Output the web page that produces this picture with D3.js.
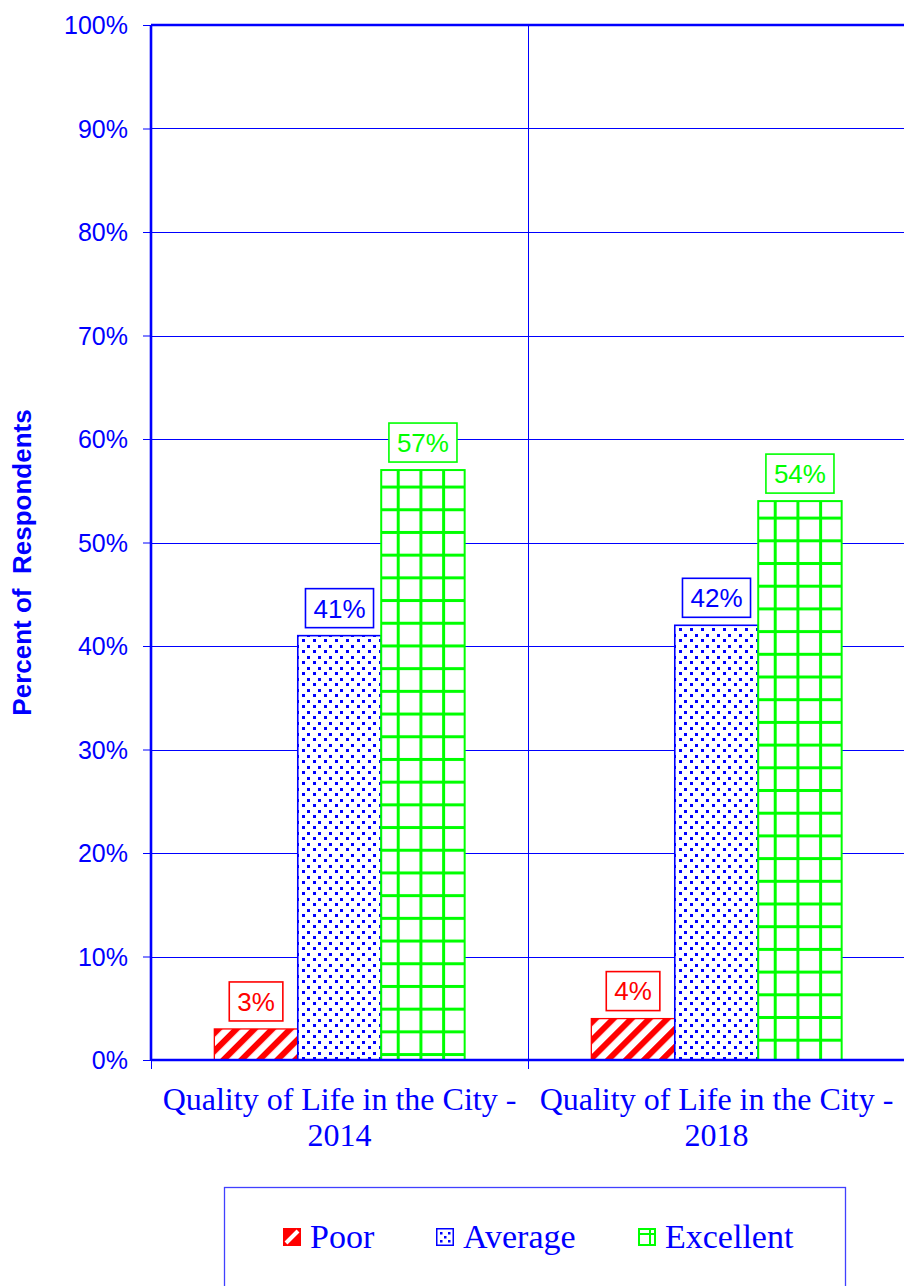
<!DOCTYPE html>
<html>
<head>
<meta charset="utf-8">
<script src="https://cdn.jsdelivr.net/npm/d3@7"></script>
<style>
  html, body { margin: 0; padding: 0; background: #fff; }
  svg { display: block; }
</style>
</head>
<body>
<script>
// ---- Data ----
const categories = ["Quality of Life in the City - 2014", "Quality of Life in the City - 2018"];
const categoryLines = [["Quality of Life in the City -", "2014"], ["Quality of Life in the City -", "2018"]];
const seriesNames = ["Poor", "Average", "Excellent"];
const poorValues = [0.03, 0.04];
const averageValues = [0.41, 0.42];
const excellentValues = [0.57, 0.54];
const yTicks = [0, 0.1, 0.2, 0.3, 0.4, 0.5, 0.6, 0.7, 0.8, 0.9, 1.0];
const yTitle = "Percent of\u00a0\u00a0Respondents";

const seriesValues = [poorValues, averageValues, excellentValues];
const colors = ["#ff0000", "#0000ff", "#00ff00"];
const BLUE = "#0000ff";

const W = 904, H = 1286;
const plot = { left: 151, top: 25, right: 905, bottom: 1060 };

const svg = d3.select("body").append("svg").attr("width", W).attr("height", H);
const defs = svg.append("defs");

const y = d3.scaleLinear().domain([0, 1]).range([plot.bottom, plot.top]);
const x0 = d3.scaleBand().domain(categories).range([plot.left, plot.right]).paddingInner(0).paddingOuter(0);
const cw = x0.bandwidth();
const x1 = d3.scaleBand().domain(seriesNames).range([cw * 0.168, cw * 0.832]).padding(0);

// ---- gridlines ----
const g = svg.append("g");
g.selectAll("line.hgrid").data(yTicks.slice(1, -1)).enter().append("line")
  .attr("x1", plot.left).attr("x2", plot.right)
  .attr("y1", d => Math.round(y(d)) + 0.5).attr("y2", d => Math.round(y(d)) + 0.5)
  .attr("stroke", BLUE).attr("stroke-width", 1);
g.append("line")
  .attr("x1", Math.round(x0(categories[1])) + 0.5).attr("x2", Math.round(x0(categories[1])) + 0.5)
  .attr("y1", plot.top).attr("y2", plot.bottom + 9)
  .attr("stroke", BLUE).attr("stroke-width", 1);

// ---- patterns ----
function makePatterns(bx, by, id) {
  const p0 = defs.append("pattern").attr("id", `pPoor${id}`)
    .attr("patternUnits", "userSpaceOnUse").attr("width", 12.7).attr("height", 12.7)
    .attr("patternTransform", `translate(${bx},${by}) rotate(45)`);
  p0.append("rect").attr("width", 12.7).attr("height", 12.7).attr("fill", "#fff");
  p0.append("rect").attr("x", 0).attr("width", 6).attr("height", 12.7).attr("fill", "#ff0000");

  const s = 11;
  const p1 = defs.append("pattern").attr("id", `pAvg${id}`)
    .attr("patternUnits", "userSpaceOnUse").attr("width", s).attr("height", s)
    .attr("x", Math.round(bx) + 4).attr("y", Math.round(by) + 3);
  p1.append("rect").attr("width", s).attr("height", s).attr("fill", "#fff");
  p1.append("rect").attr("x", 0).attr("y", 0).attr("width", 3).attr("height", 3).attr("fill", BLUE).attr("shape-rendering", "crispEdges");
  p1.append("rect").attr("x", 5).attr("y", 6).attr("width", 3).attr("height", 3).attr("fill", BLUE).attr("shape-rendering", "crispEdges");

  const t = 22.7;
  const p2 = defs.append("pattern").attr("id", `pExc${id}`)
    .attr("patternUnits", "userSpaceOnUse").attr("width", t).attr("height", t)
    .attr("x", bx + 17 - t / 2).attr("y", by + 17 - t / 2);
  p2.append("rect").attr("width", t).attr("height", t).attr("fill", "#fff");
  p2.append("rect").attr("x", t / 2 - 1.5).attr("y", 0).attr("width", 3).attr("height", t).attr("fill", "#00ff00");
  p2.append("rect").attr("x", 0).attr("y", t / 2 - 1.5).attr("width", t).attr("height", 3).attr("fill", "#00ff00");
}

// ---- bars ----
const barData = [];
categories.forEach((c, ci) => {
  seriesNames.forEach((s, si) => {
    barData.push({ cat: c, ci, series: s, si, value: seriesValues[si][ci] });
  });
});
barData.forEach(d => {
  d.x = x0(d.cat) + x1(d.series);
  d.w = x1.bandwidth();
  d.y = y(d.value);
  d.h = y(0) - y(d.value);
  makePatterns(d.x, d.y, `b${d.ci}_${d.si}`);
});

const fills = ["pPoor", "pAvg", "pExc"];
const strokeW = [1.3, 1.6, 2];
svg.append("g").selectAll("rect").data(barData).enter().append("rect")
  .attr("x", d => d.x).attr("y", d => d.y)
  .attr("width", d => d.w).attr("height", d => d.h)
  .attr("fill", d => `url(#${fills[d.si]}b${d.ci}_${d.si})`)
  .attr("stroke", d => colors[d.si]).attr("stroke-width", d => strokeW[d.si]);

// ---- axes ----
const axisG = svg.append("g");
axisG.append("line").attr("x1", plot.left).attr("x2", plot.right)
  .attr("y1", plot.top).attr("y2", plot.top).attr("stroke", BLUE).attr("stroke-width", 2.6);
axisG.append("line").attr("x1", plot.left).attr("x2", plot.left)
  .attr("y1", plot.top).attr("y2", plot.bottom).attr("stroke", BLUE).attr("stroke-width", 2.6);
axisG.append("line").attr("x1", plot.left).attr("x2", plot.right)
  .attr("y1", plot.bottom).attr("y2", plot.bottom).attr("stroke", BLUE).attr("stroke-width", 2.6);

const yAxis = d3.axisLeft(y).tickValues(yTicks).tickFormat(d3.format(".0%")).tickSize(8).tickPadding(15);
const ya = svg.append("g").attr("transform", `translate(${plot.left},0)`).call(yAxis);
ya.select(".domain").remove();
ya.selectAll(".tick line").attr("stroke", BLUE).attr("stroke-width", 1);
ya.selectAll(".tick text").attr("fill", BLUE)
  .style("font-family", "'Liberation Sans', Arial, sans-serif").style("font-size", "25px")
  .attr("dy", "0.35em");

[plot.left, x0(categories[1]), plot.right].forEach(xx => {
  axisG.append("line").attr("x1", Math.round(xx) + 0.5).attr("x2", Math.round(xx) + 0.5)
    .attr("y1", plot.bottom).attr("y2", plot.bottom + 9).attr("stroke", BLUE).attr("stroke-width", 1);
});

categories.forEach((c, ci) => {
  const cx = x0(c) + cw / 2;
  const t = svg.append("text").attr("text-anchor", "middle").attr("fill", BLUE)
    .style("font-family", "'Liberation Serif', 'Times New Roman', serif").style("font-size", "32px");
  categoryLines[ci].forEach((ln, li) => {
    t.append("tspan").attr("x", cx).attr("y", 1110 + li * 36).text(ln);
  });
});

svg.append("text").attr("transform", `translate(31,${(plot.top + plot.bottom) / 2 + 20}) rotate(-90)`)
  .attr("text-anchor", "middle").attr("fill", BLUE)
  .style("font-family", "'Liberation Sans', Arial, sans-serif").style("font-size", "26px").style("font-weight", "bold")
  .text(yTitle);

// ---- data labels ----
const fmt = d3.format(".0%");
const lg = svg.append("g");
barData.forEach(d => {
  const cx = d.x + d.w / 2;
  const txt = fmt(d.value);
  const t = lg.append("text").attr("x", cx).attr("y", d.y - 8 - 19.5).attr("dy", "0.36em")
    .attr("text-anchor", "middle").attr("fill", colors[d.si])
    .style("font-family", "'Liberation Sans', Arial, sans-serif").style("font-size", "26px").text(txt);
  const bw = t.node().getComputedTextLength() + 16;
  lg.insert("rect", "text").attr("x", cx - bw / 2).attr("y", d.y - 8 - 39).attr("width", bw).attr("height", 39)
    .attr("fill", "#fff").attr("stroke", colors[d.si]).attr("stroke-width", 1.6);
});

// ---- legend ----
const leg = svg.append("g");
leg.append("rect").attr("x", 224.5).attr("y", 1187.5).attr("width", 621).attr("height", 120)
  .attr("fill", "#fff").attr("stroke", "#4040ff").attr("stroke-width", 1.3);
const legX = [283, 436, 638];
seriesNames.forEach((s, si) => {
  const sx = legX[si], sy = 1228, sw = 18, sh = 18;
  const gg = leg.append("g");
  if (si === 0) {
    gg.append("rect").attr("x", sx).attr("y", sy).attr("width", sw).attr("height", sh).attr("fill", "#ff0000");
    gg.append("path").attr("d", `M${sx + 3},${sy + sh - 3} L${sx + sw - 3},${sy + 3}`)
      .attr("stroke", "#fff").attr("stroke-width", 4);
  } else if (si === 1) {
    gg.append("rect").attr("x", sx + 0.75).attr("y", sy + 0.75).attr("width", sw - 1.5).attr("height", sh - 1.5)
      .attr("fill", "#fff").attr("stroke", BLUE).attr("stroke-width", 1.5);
    [[4, 4], [12, 4], [8, 8], [4, 12], [12, 12]].forEach(([dx, dy]) => {
      gg.append("rect").attr("x", sx + dx).attr("y", sy + dy).attr("width", 2.5).attr("height", 2.5).attr("fill", BLUE);
    });
  } else {
    gg.append("rect").attr("x", sx + 1).attr("y", sy + 1).attr("width", sw - 2).attr("height", sh - 2)
      .attr("fill", "#fff").attr("stroke", "#00ff00").attr("stroke-width", 2);
    gg.append("line").attr("x1", sx).attr("x2", sx + sw).attr("y1", sy + 6).attr("y2", sy + 6)
      .attr("stroke", "#00ff00").attr("stroke-width", 2);
    gg.append("line").attr("x1", sx + 12).attr("x2", sx + 12).attr("y1", sy).attr("y2", sy + sh)
      .attr("stroke", "#00ff00").attr("stroke-width", 2);
  }
  leg.append("text").attr("x", sx + sw + 9).attr("y", 1248).attr("fill", BLUE)
    .style("font-family", "'Liberation Serif', 'Times New Roman', serif").style("font-size", "34px").text(s);
});
</script>
</body>
</html>
